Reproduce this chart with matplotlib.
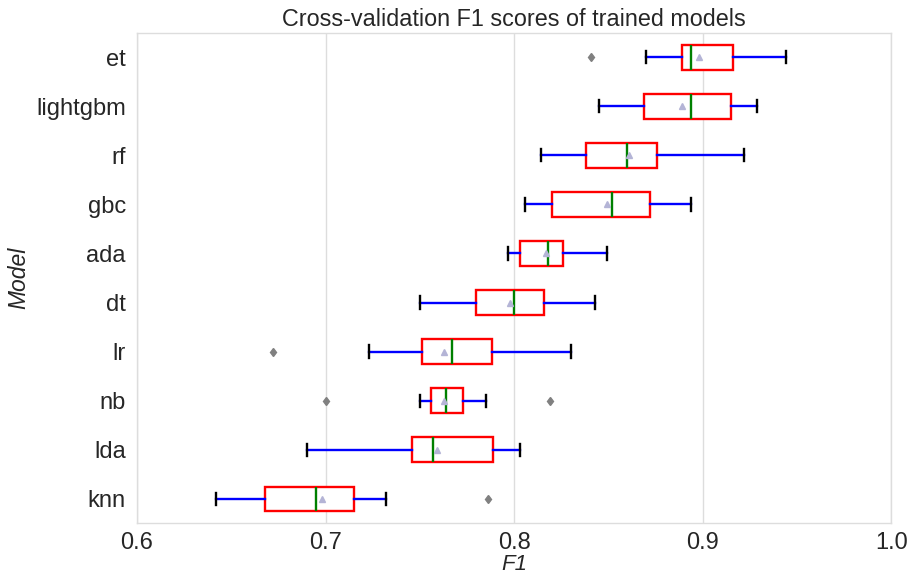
import matplotlib
matplotlib.use("Agg")
import matplotlib.pyplot as plt

models = ["et", "lightgbm", "rf", "gbc", "ada", "dt", "lr", "nb", "lda", "knn"]
whislo = [0.870, 0.845, 0.814, 0.806, 0.797, 0.750, 0.723, 0.750, 0.690, 0.642]
q1 = [0.889, 0.869, 0.838, 0.820, 0.803, 0.780, 0.751, 0.756, 0.746, 0.668]
med = [0.894, 0.894, 0.860, 0.852, 0.818, 0.800, 0.767, 0.764, 0.757, 0.695]
q3 = [0.916, 0.915, 0.876, 0.872, 0.826, 0.816, 0.788, 0.773, 0.789, 0.715]
whishi = [0.944, 0.929, 0.922, 0.894, 0.849, 0.843, 0.830, 0.785, 0.803, 0.732]
means = [0.898, 0.889, 0.861, 0.849, 0.817, 0.798, 0.763, 0.763, 0.759, 0.698]
fliers = [[0.841], [], [], [], [], [], [0.672], [0.700, 0.819], [], [0.786]]

plt.rcParams["font.family"] = ["Liberation Sans", "DejaVu Sans"]

fig = plt.figure(figsize=(9.1, 5.78), dpi=100)
ax = fig.add_axes([0.1505, 0.0946, 0.829, 0.8488])

stats = []
for i, m in enumerate(models):
    stats.append(dict(label=m, whislo=whislo[i], q1=q1[i], med=med[i], q3=q3[i],
                      whishi=whishi[i], mean=means[i], fliers=fliers[i]))

ax.bxp(stats, positions=list(range(len(models))), vert=False, widths=0.5,
       showmeans=True, patch_artist=True,
       boxprops=dict(facecolor="white", edgecolor="red", linewidth=1.7),
       whiskerprops=dict(color="blue", linewidth=1.7),
       capprops=dict(color="black", linewidth=1.7),
       medianprops=dict(color="green", linewidth=1.7),
       meanprops=dict(marker="^", markerfacecolor="#b4b4d6", markeredgecolor="#b4b4d6", markersize=5),
       flierprops=dict(marker="d", markerfacecolor="#808080", markeredgecolor="#808080", markersize=4.5))

ax.set_xlim(0.6, 1.0)
ax.set_ylim(9.5, -0.5)
ax.set_yticks(range(len(models)))
ax.set_yticklabels(models)
ax.set_xticks([0.6, 0.7, 0.8, 0.9, 1.0])
ax.set_xticklabels(["0.6", "0.7", "0.8", "0.9", "1.0"])
ax.tick_params(axis="y", labelsize=17, length=0, pad=8, colors="#262626")
ax.tick_params(axis="x", labelsize=17, length=0, pad=6, colors="#262626")
ax.xaxis.grid(True, color="#dddddd", linewidth=1)
ax.yaxis.grid(False)
ax.set_axisbelow(True)
for s in ax.spines.values():
    s.set_color("#dddddd")
    s.set_linewidth(1)

ax.set_title("Cross-validation F1 scores of trained models", fontsize=16.8, color="#262626", pad=5)
ax.set_xlabel("F1", fontsize=16, style="italic", color="#262626", labelpad=0)
ax.set_ylabel("Model", fontsize=16.5, style="italic", color="#262626", labelpad=4)

fig.savefig("out.png", dpi=100, facecolor="white")
